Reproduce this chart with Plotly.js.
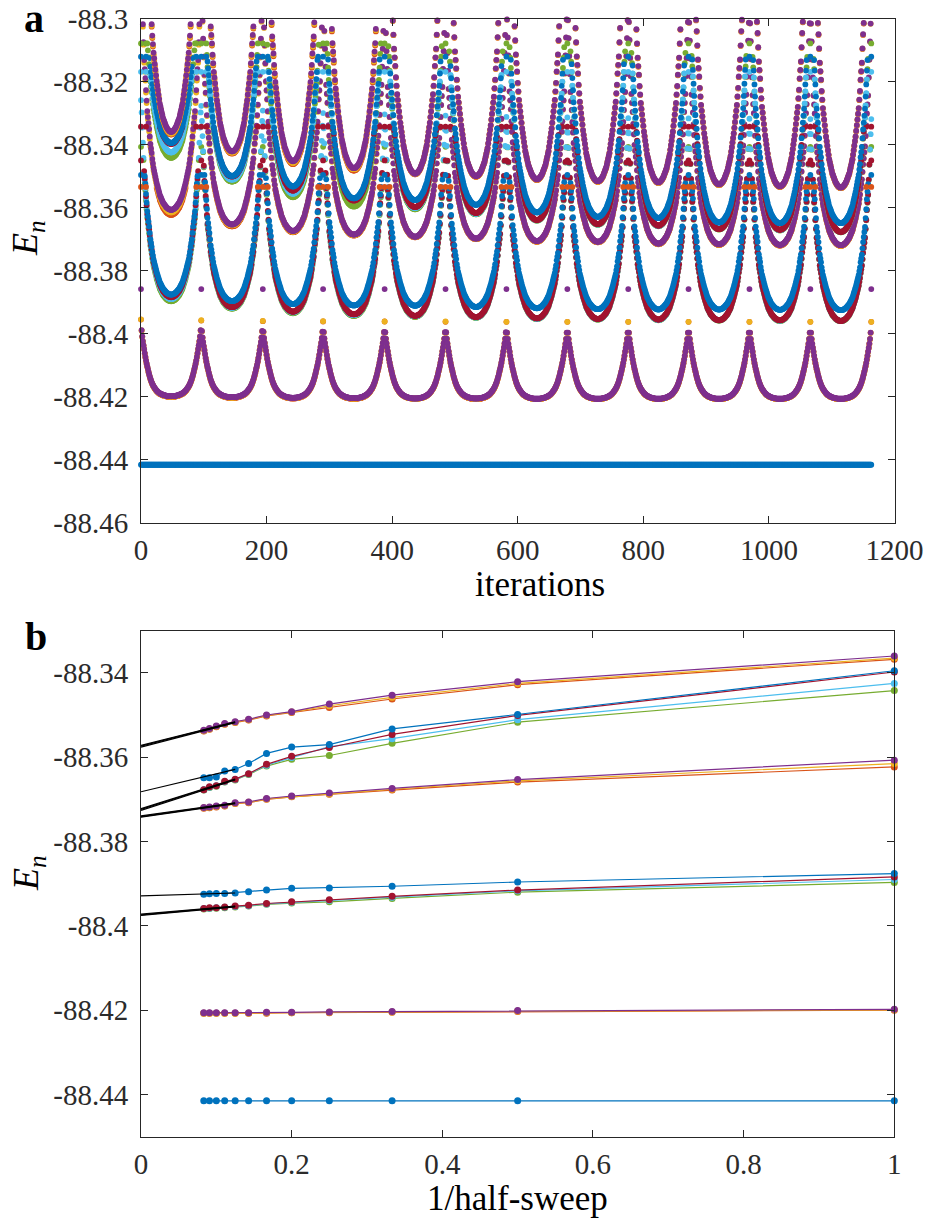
<!DOCTYPE html>
<html><head><meta charset="utf-8">
<script src="https://cdn.plot.ly/plotly-3.0.1.min.js"></script>
<style>
html,body{margin:0;padding:0;background:#fff}
#chart{width:925px;height:1221px}
#chart .xtick text,#chart .ytick text,#chart .x2tick text,#chart .y2tick text{font-family:"Liberation Serif",serif !important}
</style>
</head><body><div id="chart"></div>
<script>
// ---------- data ----------
// half-sweep number k (panel b x = 1/k)
const halfSweeps = [1,2,3,4,5,6,7,8,9,10,11,12];
// E_n at the end of each half-sweep, one array per state n = 1..18
const E01 = [-88.4415,-88.4415,-88.4415,-88.4415,-88.4415,-88.4415,-88.4415,-88.4415,-88.4415,-88.4415,-88.4415,-88.4415];
const E02 = [-88.4200,-88.4203,-88.4205,-88.4206,-88.4206,-88.4207,-88.4207,-88.4207,-88.4207,-88.4207,-88.4207,-88.4207];
const E03 = [-88.4199,-88.4202,-88.4204,-88.4205,-88.4206,-88.4206,-88.4207,-88.4207,-88.4207,-88.4207,-88.4207,-88.4207];
const E04 = [-88.4198,-88.4201,-88.4203,-88.4204,-88.4205,-88.4205,-88.4206,-88.4206,-88.4206,-88.4206,-88.4206,-88.4206];
const E05 = [-88.3897,-88.3920,-88.3935,-88.3943,-88.3946,-88.3949,-88.3953,-88.3955,-88.3957,-88.3958,-88.3959,-88.3960];
const E06 = [-88.3890,-88.3917,-88.3932,-88.3940,-88.3944,-88.3948,-88.3952,-88.3954,-88.3956,-88.3957,-88.3958,-88.3959];
const E07 = [-88.3884,-88.3915,-88.3930,-88.3938,-88.3943,-88.3947,-88.3951,-88.3953,-88.3955,-88.3957,-88.3957,-88.3959];
const E08 = [-88.3876,-88.3896,-88.3906,-88.3910,-88.3911,-88.3915,-88.3919,-88.3922,-88.3923,-88.3923,-88.3924,-88.3925];
const E09 = [-88.3623,-88.3659,-88.3678,-88.3688,-88.3694,-88.3700,-88.3708,-88.3710,-88.3716,-88.3718,-88.3720,-88.3721];
const E10 = [-88.3615,-88.3656,-88.3676,-88.3687,-88.3693,-88.3699,-88.3707,-88.3709,-88.3715,-88.3717,-88.3719,-88.3720];
const E11 = [-88.3607,-88.3653,-88.3674,-88.3685,-88.3692,-88.3698,-88.3706,-88.3708,-88.3714,-88.3716,-88.3718,-88.3719];
const E12 = [-88.3442,-88.3517,-88.3567,-88.3596,-88.3605,-88.3621,-88.3641,-88.3654,-88.3659,-88.3669,-88.3672,-88.3678];
const E13 = [-88.3425,-88.3511,-88.3556,-88.3575,-88.3601,-88.3619,-88.3640,-88.3653,-88.3658,-88.3668,-88.3671,-88.3677];
const E14 = [-88.3398,-88.3501,-88.3546,-88.3577,-88.3598,-88.3617,-88.3639,-88.3652,-88.3657,-88.3668,-88.3670,-88.3677];
const E15 = [-88.3395,-88.3499,-88.3533,-88.3570,-88.3576,-88.3591,-88.3615,-88.3629,-88.3633,-88.3647,-88.3649,-88.3649];
const E16 = [-88.3368,-88.3428,-88.3462,-88.3482,-88.3494,-88.3502,-88.3512,-88.3518,-88.3522,-88.3528,-88.3534,-88.3538];
const E17 = [-88.3365,-88.3425,-88.3458,-88.3478,-88.3493,-88.3501,-88.3511,-88.3517,-88.3521,-88.3527,-88.3533,-88.3537];
const E18 = [-88.3360,-88.3421,-88.3453,-88.3474,-88.3492,-88.3500,-88.3510,-88.3516,-88.3520,-88.3526,-88.3532,-88.3536];
const states = [E01,E02,E03,E04,E05,E06,E07,E08,E09,E10,E11,E12,E13,E14,E15,E16,E17,E18];

// extrapolated value at 1/half-sweep = 0 (black lines), null = no line
const extrapAtZero = [null,null,null,null,-88.3975,-88.3974,-88.3972,-88.3929,-88.3742,-88.3741,-88.3739,-88.3726,-88.3724,-88.3722,-88.3682,-88.3576,-88.3574,-88.3572];
const fitFromHalfSweep = 8;

// panel a: iteration at which each half-sweep ends
const sweepEnds = [0,96,194,290,388,485,582,679,776,872,969,1066,1163];
// rise above the half-sweep minimum (mHa) vs. distance (iterations) from the sweep edge
const edgeRiseLow = [24.5,21,19,17.5,16.2,15,13.7,12.5,11.4,10.4,9.5,8.7,7.8,7.0,6.3,5.6,5.0,4.5,4.0,3.6,3.2,2.9,2.6,2.3,2.05,1.8,1.6,1.4,1.25,1.1,0.95,0.85,0.75,0.65,0.55,0.47,0.4,0.34,0.28,0.23,0.18,0.14,0.1,0.07,0.05,0.03,0.02,0.01,0];
const edgeRiseHigh = [80,74,68,62,56,50,47,44,40,36.5,33,31,29,27,24.5,22,20.5,19,17,15.5,14,13,12,11,10,9,8.2,7.4,6.6,5.8,5,4.5,4,3.5,3,2.5,2.2,1.9,1.6,1.3,1,0.8,0.6,0.45,0.3,0.2,0.1,0.05,0];
const riseScale = [0,1,1,1,0.8,0.8,0.8,0.8,0.95,0.95,0.95,1.1,1.1,1.1,1.1,1.8,1.8,1.8];
// flat value reached near the sweep edges (null = goes off the top)
const edgePlateau = [null,null,null,null,-88.3407,-88.3259,-88.3450,-88.3496,-88.3534,null,null,-88.3079,-88.3169,-88.3343,-88.3121,null,null,null];
const edgeSpikeState4 = -88.3858;

// tick labels
const aYTicks = [-88.46,-88.44,-88.42,-88.4,-88.38,-88.36,-88.34,-88.32,-88.3];
const aYLabels = ['-88.46','-88.44','-88.42','-88.4','-88.38','-88.36','-88.34','-88.32','-88.3'];
const aXTicks = [0,200,400,600,800,1000,1200];
const aXLabels = ['0','200','400','600','800','1000','1200'];
const bYTicks = [-88.44,-88.42,-88.4,-88.38,-88.36,-88.34];
const bYLabels = ['-88.44','-88.42','-88.4','-88.38','-88.36','-88.34'];
const bXTicks = [0,0.2,0.4,0.6,0.8,1];
const bXLabels = ['0','0.2','0.4','0.6','0.8','1'];

// ---------- style ----------
const palette = ['#0072BD','#D95319','#EDB120','#7E2F8E','#77AC30','#4DBEEE','#A2142F'];
const FONT = '"Liberation Serif", "Times New Roman", serif';

// ---------- traces ----------
const traces = [];
const nIter = sweepEnds[sweepEnds.length-1];
states.forEach((E, s) => {
  const xs = [], ys = [];
  for (let i = 0; i <= nIter; i++) {
    let k = 1;
    while (k < sweepEnds.length-1 && i >= sweepEnds[k]) k++;
    const left = sweepEnds[k-1], right = sweepEnds[k];
    const dl = i - left, dr = right - i;
    const d = Math.min(48, Math.min(dl, dr));
    const off = dl <= dr ? dl : -dr;
    const base = E[k-1];
    let v;
    if (s === 0) v = base;
    else if (s <= 3) {
      v = base + edgeRiseLow[d]/1000;
      if (s === 3 && d === 0) v = edgeSpikeState4;
    } else {
      v = base + riseScale[s]*edgeRiseHigh[d]/1000;
      const p = edgePlateau[s];
      if (p !== null && v > p) {
        if (Math.abs(off) <= 12 && ((off % 8) + 8) % 8 === 0) v = p; else continue;
      }
    }
    if (v > -88.3003) continue;
    xs.push(i); ys.push(v);
  }
  traces.push({x: xs, y: ys, type: 'scatter', mode: 'markers', xaxis: 'x', yaxis: 'y',
    marker: {size: 5.8, color: palette[s % 7]}, cliponaxis: false, hoverinfo: 'skip'});
});

const invSweep = halfSweeps.map(k => 1/k);
states.forEach((E, s) => {
  traces.push({x: invSweep, y: E, type: 'scatter', mode: 'lines+markers', xaxis: 'x2', yaxis: 'y2',
    line: {color: palette[s % 7], width: 1.2}, marker: {size: 7, color: palette[s % 7]},
    cliponaxis: false, hoverinfo: 'skip'});
});
states.forEach((E, s) => {
  if (extrapAtZero[s] === null) return;
  traces.push({x: [0, 1/fitFromHalfSweep], y: [extrapAtZero[s], E[fitFromHalfSweep-1]], type: 'scatter',
    mode: 'lines', xaxis: 'x2', yaxis: 'y2', line: {color: '#000', width: 1.2}, cliponaxis: false, hoverinfo: 'skip'});
});

// ---------- layout ----------
const W = 925, H = 1221;
function axisStyle(extra) {
  return Object.assign({
    showline: true, mirror: 'ticks', linecolor: '#262626', linewidth: 1,
    ticks: 'inside', ticklen: 7, tickwidth: 1, tickcolor: '#262626',
    showgrid: false, zeroline: false, tickmode: 'array',
    tickfont: {family: FONT, size: 29, color: '#2b2b2b'}, ticklabelstandoff: 6
  }, extra);
}
const ann = (text, px, py, size, extra) => Object.assign({
  text, x: px/W, y: 1 - py/H, xref: 'paper', yref: 'paper', showarrow: false,
  xanchor: 'center', yanchor: 'middle', font: {family: FONT, size, color: '#000'}
}, extra || {});

const layout = {
  width: W, height: H, margin: {l: 0, r: 0, t: 0, b: 0},
  paper_bgcolor: '#fff', plot_bgcolor: '#fff', showlegend: false,
  font: {family: FONT, color: '#262626'},
  xaxis: axisStyle({domain: [141/W, 894.5/W], anchor: 'y', range: [0, 1200], tickvals: aXTicks, ticktext: aXLabels, ticklabelstandoff: 1}),
  yaxis: axisStyle({domain: [1 - 523/H, 1 - 18.5/H], anchor: 'x', range: [-88.46, -88.3], tickvals: aYTicks, ticktext: aYLabels}),
  xaxis2: axisStyle({domain: [141/W, 894.3/W], anchor: 'y2', range: [0, 1], tickvals: bXTicks, ticktext: bXLabels, ticklabelstandoff: 1}),
  yaxis2: axisStyle({domain: [1 - 1136.7/H, 1 - 630.7/H], anchor: 'x2', range: [-88.45, -88.33], tickvals: bYTicks, ticktext: bYLabels}),
  annotations: [
    ann('<b>a</b>', 34, 19, 40),
    ann('<b>b</b>', 36, 636, 40),
    ann('<i>E</i><sub><i>n</i></sub>', 28, 238, 36, {textangle: -90}),
    ann('<i>E</i><sub><i>n</i></sub>', 28, 873, 36, {textangle: -90}),
    ann('iterations', 540, 584, 35),
    ann('1/half-sweep', 517, 1198, 35)
  ]
};

Plotly.newPlot('chart', traces, layout, {staticPlot: true, displayModeBar: false});
</script>
</body></html>
